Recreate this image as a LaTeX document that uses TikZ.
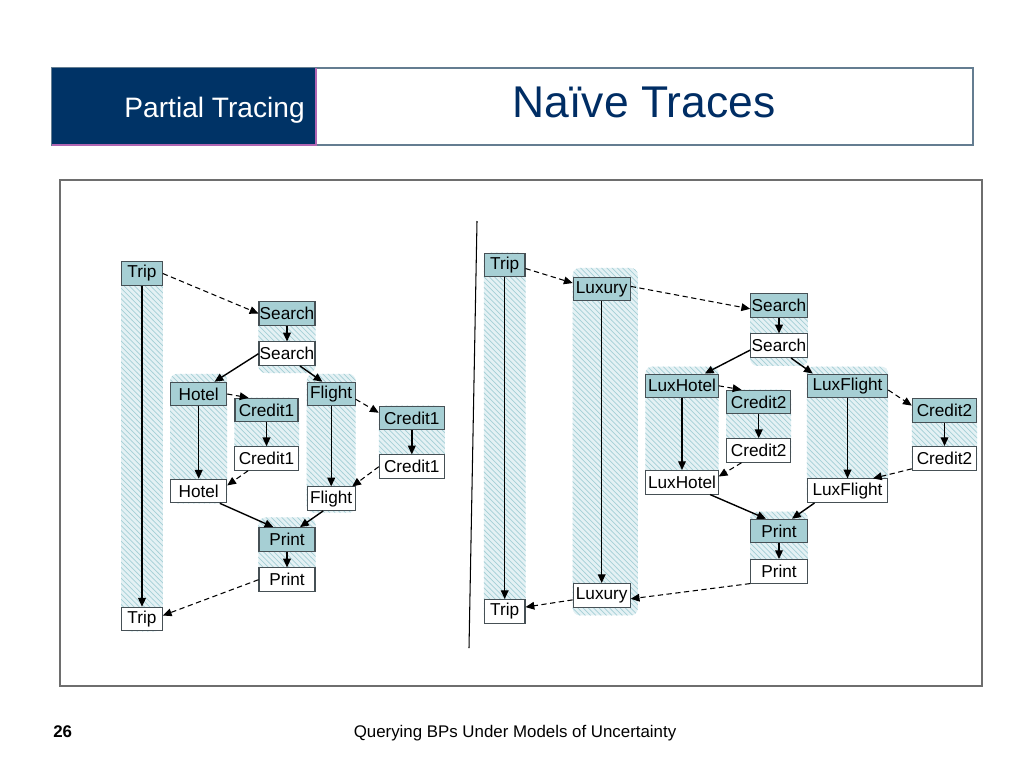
\documentclass[tikz,border=0pt]{standalone}
\usepackage{fontspec}
\setmainfont{Liberation Sans}
\usetikzlibrary{arrows.meta,positioning,calc,patterns,backgrounds}
\definecolor{boxfill}{RGB}{166,207,212}
\definecolor{boxline}{RGB}{70,80,85}
\definecolor{hatchbg}{RGB}{228,241,244}
\definecolor{hatchln}{RGB}{165,207,214}
\definecolor{navy}{RGB}{0,51,102}
\definecolor{titleblue}{RGB}{0,45,100}
\definecolor{hdrline}{RGB}{100,125,145}
\definecolor{framegray}{RGB}{110,110,110}
\tikzset{
  box/.style={draw=boxline,line width=0.6pt,minimum height=0.47cm,inner sep=0pt,
    font=\fontsize{9.8}{11}\selectfont},
  full/.style={box,fill=boxfill},
  plain/.style={box,fill=white},
  wd/.style={minimum width=#1*0.02cm},
  arr/.style={-{Triangle[length=5pt,width=4.4pt]},line width=0.8pt},
  darr/.style={arr,line width=0.6pt,dash pattern=on 3pt off 2pt},
  hatch/.style={preaction={fill=hatchbg},pattern=north west lines,
    pattern color=hatchln,rounded corners=4pt},
  txt/.style={inner sep=0pt},
}

\begin{document}
\begin{tikzpicture}[x=0.02cm,y=-0.02cm]
  \useasboundingbox (0,0) rectangle (1024,768);
  % header
  \draw[hdrline,line width=0.8pt] (52,68) rectangle (973,145);
  \fill[navy] (52,68) rectangle (316,145);
  \draw[violet!60,line width=0.6pt] (316,68) -- (316,145) -- (52,145);
  \node[txt,anchor=base east,text=white,font=\fontsize{16}{18}\selectfont] (sect) at (305,117) {Partial Tracing};
  \node[txt,anchor=base,text=titleblue,font=\fontsize{25.3}{30}\selectfont] (ttl) at (644,117) {Naïve Traces};
  % frame
  \draw[framegray,line width=0.8pt] (60,180) rectangle (982,686);
  \draw[line width=0.6pt] (477,221) -- (469,648);
  % left trace
  \node[full,wd=40.6] (tripA) at (142,273.5) {Trip};
  \node[full,wd=56] (srchA) at (287,313.5) {Search};
  \node[plain,wd=56] (srchB) at (287,353.7) {Search};
  \node[full,wd=56] (hotA) at (198.7,394) {Hotel};
  \node[full,wd=63] (crA) at (266.5,410) {Credit1};
  \node[plain,wd=64] (crB) at (266.5,458.5) {Credit1};
  \node[plain,wd=56] (hotB) at (198.7,491) {Hotel};
  \node[full,wd=48] (fliA) at (331.2,394) {Flight};
  \node[full,wd=65] (crC) at (411.8,418) {Credit1};
  \node[plain,wd=65] (crD) at (411.8,466.7) {Credit1};
  \node[plain,wd=48] (fliB) at (331.2,498.7) {Flight};
  \node[full,wd=56] (prA) at (287,539.4) {Print};
  \node[plain,wd=56] (prB) at (287,579.7) {Print};
  \node[plain,wd=40.6] (tripB) at (142,619) {Trip};
  % right trace
  \node[full,wd=40.6] (rtripA) at (504.7,265) {Trip};
  \node[full,wd=57] (luxA) at (601.7,289) {Luxury};
  \node[full,wd=56.6] (rsrchA) at (779,305.3) {Search};
  \node[plain,wd=56.6] (rsrchB) at (779,345.7) {Search};
  \node[full,wd=72.3] (lhA) at (682,385.8) {LuxHotel};
  \node[full,wd=64] (rcrA) at (758.7,402) {Credit2};
  \node[plain,wd=64] (rcrB) at (758.7,450.5) {Credit2};
  \node[plain,wd=72.3] (lhB) at (682,482.3) {LuxHotel};
  \node[full,wd=80.4] (lfA) at (847.5,385.8) {LuxFlight};
  \node[full,wd=64.4] (rcrC) at (944.5,410.3) {Credit2};
  \node[plain,wd=64.4] (rcrD) at (944.5,458.3) {Credit2};
  \node[plain,wd=80.4] (lfB) at (847.5,490.7) {LuxFlight};
  \node[full,wd=56.6] (rprA) at (779,531) {Print};
  \node[plain,wd=56.6] (rprB) at (779,571.3) {Print};
  \node[plain,wd=57] (luxB) at (601.7,595.3) {Luxury};
  \node[plain,wd=40.6] (rtripB) at (504.7,611.3) {Trip};
  \begin{scope}[on background layer]
    \foreach \a/\b/\t/\u/\r in {tripA/tripB/0/0/0,srchA/srchB/0/4/0,hotA/hotB/4.5/0/0,
      crA/crB/0/0/0,fliA/fliB/4.5/1/0,crC/crD/0/0/0,prA/prB/5.5/0/0,
      rtripA/rtripB/0/0/0,luxA/luxB/5/4.5/4,rsrchA/rsrchB/0/4.5/0,lhA/lhB/4/0/0,
      rcrA/rcrB/0/0/0,lfA/lfB/4/0/0,rcrC/rcrD/0/0/0,rprA/rprB/4/0/0}
      \path[hatch] ([yshift=\t pt]\a.north west) rectangle ([xshift=\r pt,yshift=-\u pt]\b.south east);
  \end{scope}
  % left connectors
  \draw[darr] (tripA.east) -- (srchA.west);
  \draw[arr] (tripA) -- (tripB);
  \draw[arr] (srchA) -- (srchB);
  \draw[arr] (srchB.west) -- ([xshift=9pt]hotA.north);
  \draw[arr] ([xshift=7.4pt]srchB.south) -- ([xshift=-5pt]fliA.north);
  \draw[darr] (hotA.east) -- ([xshift=8pt]crA.north west);
  \draw[arr] (hotA) -- (hotB);
  \draw[arr] (crA) -- (crB);
  \draw[darr] ([xshift=8pt]crB.south west) -- ([yshift=-3.8pt]hotB.north east);
  \draw[darr] ([yshift=-3pt]fliA.east) -- ([yshift=-4pt]crC.north west);
  \draw[arr] (crC) -- (crD);
  \draw[darr] (crD.west) -- ([xshift=-2pt]fliB.north east);
  \draw[arr] (fliA) -- (fliB);
  \draw[arr] ([xshift=12pt]hotB.south) -- ([xshift=8.5pt]prA.north west);
  \draw[arr] ([xshift=-4.6pt]fliB.south) -- ([xshift=7.4pt]prA.north);
  \draw[arr] (prA) -- (prB);
  \draw[darr] (prB.west) -- ([yshift=2pt]tripB.east);
  % right connectors
  \draw[darr] ([yshift=-2pt]rtripA.east) -- ([yshift=3.4pt]luxA.west);
  \draw[darr] ([yshift=1.5pt]luxA.east) -- ([yshift=-2pt]rsrchA.west);
  \draw[arr] (rtripA) -- (rtripB);
  \draw[arr] (luxA) -- (luxB);
  \draw[arr] (rsrchA) -- (rsrchB);
  \draw[arr] ([yshift=-2.5pt]rsrchB.west) -- ([xshift=13pt]lhA.north);
  \draw[arr] ([xshift=6.8pt]rsrchB.south) -- ([xshift=3.4pt]lfA.north west);
  \draw[darr] (lhA.east) -- ([xshift=8.7pt]rcrA.north west);
  \draw[arr] (lhA) -- (lhB);
  \draw[arr] (rcrA) -- (rcrB);
  \draw[darr] ([xshift=8.7pt]rcrB.south west) -- ([yshift=-3.7pt]lhB.north east);
  \draw[darr] ([yshift=-2.4pt]lfA.east) -- ([yshift=-4.3pt]rcrC.north west);
  \draw[arr] (lfA) -- (lfB);
  \draw[arr] (rcrC) -- (rcrD);
  \draw[darr] ([yshift=1pt]rcrD.south west) -- ([xshift=14.5pt]lfB.north);
  \draw[arr] ([xshift=16pt]lhB.south) -- ([xshift=9pt]rprA.north west);
  \draw[arr] ([xshift=4.4pt]lfB.south west) -- ([xshift=7.4pt]rprA.north);
  \draw[arr] (rprA) -- (rprB);
  \draw[darr] (rprB.south west) -- ([yshift=-2pt]luxB.east);
  \draw[darr] ([yshift=-2.6pt]luxB.west) -- ([yshift=2.4pt]rtripB.east);
  % footer
  \node[txt,anchor=base west,font=\fontsize{9.6}{11}\selectfont\bfseries] (pgno) at (53,737) {26};
  \node[txt,anchor=base,font=\fontsize{9.6}{11}\selectfont] (foot) at (515,737) {Querying BPs Under Models of Uncertainty};
\end{tikzpicture}
\end{document}
